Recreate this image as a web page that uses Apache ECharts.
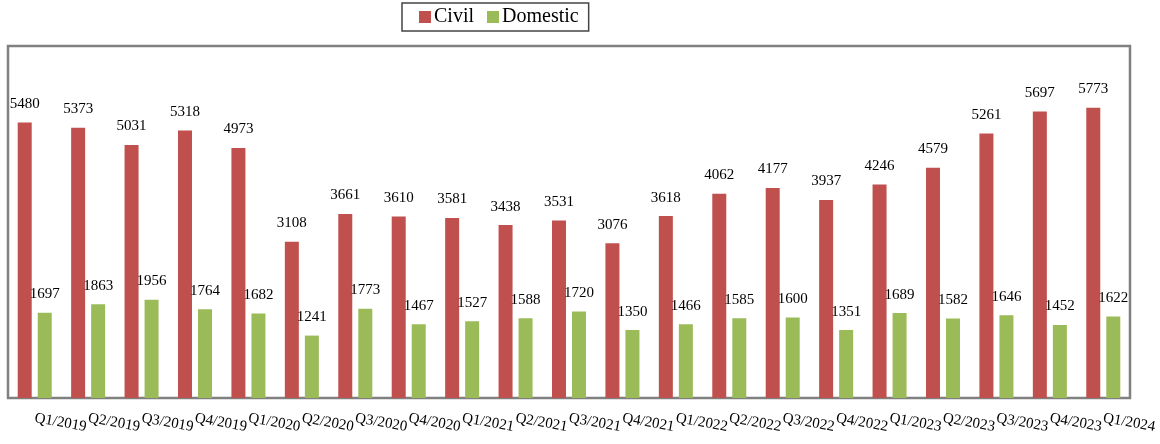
<!DOCTYPE html>
<html>
<head>
<meta charset="utf-8">
<script src="https://cdn.jsdelivr.net/npm/echarts@6/dist/echarts.min.js"></script>
<style>
  html, body { margin: 0; padding: 0; background: #fff; }
  #chart { width: 1160px; height: 444px; }
</style>
</head>
<body>
<div id="chart"></div>
<script>
  // quarters
  const categories = ['Q1/2019', 'Q2/2019', 'Q3/2019', 'Q4/2019', 'Q1/2020', 'Q2/2020', 'Q3/2020', 'Q4/2020',
    'Q1/2021', 'Q2/2021', 'Q3/2021', 'Q4/2021', 'Q1/2022', 'Q2/2022', 'Q3/2022', 'Q4/2022',
    'Q1/2023', 'Q2/2023', 'Q3/2023', 'Q4/2023', 'Q1/2024'];
  const civil = [5480, 5373, 5031, 5318, 4973, 3108, 3661, 3610, 3581, 3438, 3531, 3076, 3618, 4062, 4177, 3937,
    4246, 4579, 5261, 5697, 5773];
  const domestic = [1697, 1863, 1956, 1764, 1682, 1241, 1773, 1467, 1527, 1588, 1720, 1350, 1466, 1585, 1600, 1351,
    1689, 1582, 1646, 1452, 1622];

  const font = '"Liberation Serif", "Times New Roman", serif';
  let myChart = echarts.init(document.getElementById('chart'));

  let label = {
    show: true,
    position: 'top',
    distance: 11,
    color: '#000',
    fontFamily: font,
    fontSize: 15
  };

  let options = {
    animation: false,
    legend: {
      top: 3,
      left: 402,
      itemWidth: 12,
      itemHeight: 12,
      itemGap: 13,
      padding: [4, 10, 4, 17],
      borderColor: '#444',
      borderWidth: 1.5,
      icon: 'rect',
      textStyle: { fontFamily: font, fontSize: 20, color: '#000', padding: [0, 0, 0, -2] },
      data: ['Civil', 'Domestic']
    },
    grid: {
      show: true,
      left: 8,
      right: 30,
      top: 46,
      bottom: 46,
      borderColor: '#808080',
      borderWidth: 2.5,
      backgroundColor: '#fff'
    },
    xAxis: {
      type: 'category',
      data: categories,
      axisLine: { show: false },
      axisTick: { show: false },
      axisLabel: {
        rotate: -10,
        interval: 0,
        margin: 20,
        fontFamily: font,
        fontSize: 15,
        color: '#000'
      }
    },
    yAxis: {
      type: 'value',
      min: 0,
      max: 7000,
      show: false,
      splitLine: { show: false }
    },
    series: [
      {
        name: 'Civil',
        type: 'bar',
        data: civil,
        barWidth: 14,
        barGap: '43%',
        itemStyle: { color: '#C0504D' },
        label: label
      },
      {
        name: 'Domestic',
        type: 'bar',
        data: domestic,
        barWidth: 14,
        itemStyle: { color: '#9BBB59' },
        label: label
      }
    ]
  };

  myChart.setOption(options);
</script>
</body>
</html>
